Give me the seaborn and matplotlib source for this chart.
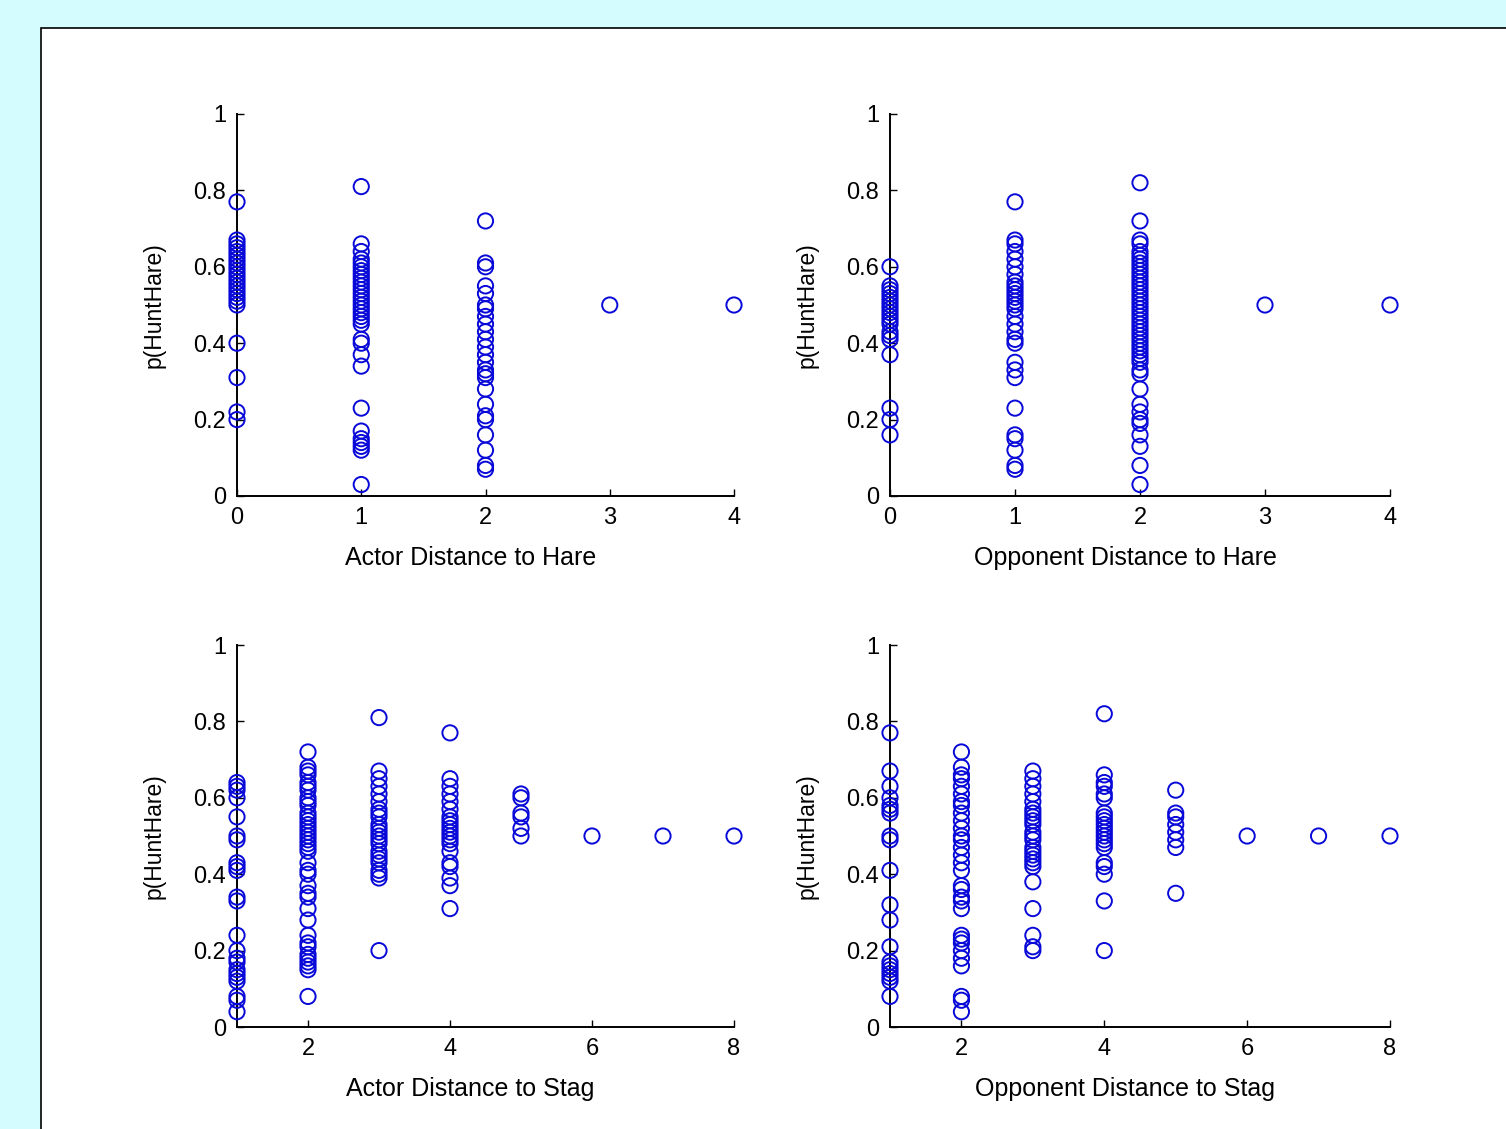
import matplotlib
matplotlib.use("Agg")
import matplotlib.pyplot as plt
from matplotlib.patches import Rectangle
import seaborn as sns
import pandas as pd

# ---------------- data (p(HuntHare) values per distance) ----------------
# Actor Distance to Hare
ah_d0 = [0.77, 0.67, 0.66, 0.65, 0.64, 0.63, 0.62, 0.61, 0.60, 0.59, 0.58, 0.57,
         0.56, 0.55, 0.54, 0.53, 0.52, 0.51, 0.50, 0.40, 0.31, 0.22, 0.20]
ah_d1 = [0.81, 0.66, 0.64, 0.62, 0.61, 0.60, 0.59, 0.58, 0.57, 0.56, 0.55, 0.54,
         0.53, 0.52, 0.51, 0.50, 0.49, 0.48, 0.47, 0.46, 0.45, 0.41, 0.40, 0.37,
         0.34, 0.23, 0.17, 0.15, 0.14, 0.13, 0.12, 0.03]
ah_d2 = [0.72, 0.61, 0.60, 0.55, 0.53, 0.50, 0.49, 0.47, 0.45, 0.43, 0.41, 0.39,
         0.37, 0.35, 0.33, 0.32, 0.31, 0.28, 0.24, 0.21, 0.20, 0.16, 0.12, 0.08, 0.07]
ah_d3 = [0.50]
ah_d4 = [0.50]

# Opponent Distance to Hare
oh_d0 = [0.60, 0.55, 0.54, 0.53, 0.52, 0.51, 0.50, 0.49, 0.48, 0.47, 0.46, 0.45,
         0.43, 0.42, 0.41, 0.37, 0.23, 0.20, 0.16]
oh_d1 = [0.77, 0.67, 0.66, 0.64, 0.62, 0.60, 0.58, 0.56, 0.55, 0.54, 0.53, 0.52,
         0.51, 0.50, 0.49, 0.47, 0.45, 0.43, 0.41, 0.40, 0.35, 0.33, 0.31, 0.23,
         0.16, 0.15, 0.12, 0.08, 0.07]
oh_d2 = [0.82, 0.72, 0.67, 0.66, 0.64, 0.63, 0.62, 0.61, 0.60, 0.59, 0.58, 0.57,
         0.56, 0.55, 0.54, 0.53, 0.52, 0.51, 0.50, 0.49, 0.48, 0.47, 0.46, 0.45,
         0.44, 0.43, 0.42, 0.41, 0.40, 0.39, 0.38, 0.37, 0.36, 0.35, 0.33, 0.32,
         0.28, 0.24, 0.22, 0.20, 0.19, 0.16, 0.13, 0.08, 0.03]
oh_d3 = [0.50]
oh_d4 = [0.50]

# Actor Distance to Stag
as_d1 = [0.64, 0.63, 0.62, 0.60, 0.55, 0.50, 0.49, 0.43, 0.42, 0.41, 0.34, 0.33,
         0.24, 0.20, 0.18, 0.17, 0.15, 0.14, 0.13, 0.12, 0.08, 0.07, 0.04]
as_d2 = [0.72, 0.68, 0.67, 0.66, 0.64, 0.63, 0.62, 0.60, 0.59, 0.58, 0.56, 0.55,
         0.54, 0.53, 0.52, 0.51, 0.50, 0.49, 0.48, 0.47, 0.46, 0.43, 0.41, 0.40,
         0.37, 0.35, 0.34, 0.31, 0.28, 0.24, 0.22, 0.21, 0.19, 0.18, 0.17, 0.16,
         0.15, 0.08]
as_d3 = [0.81, 0.67, 0.65, 0.63, 0.61, 0.59, 0.57, 0.56, 0.55, 0.53, 0.52, 0.51,
         0.50, 0.49, 0.48, 0.46, 0.45, 0.44, 0.43, 0.41, 0.40, 0.39, 0.20]
as_d4 = [0.77, 0.65, 0.63, 0.61, 0.59, 0.57, 0.55, 0.54, 0.53, 0.52, 0.51, 0.50,
         0.49, 0.48, 0.46, 0.43, 0.42, 0.39, 0.37, 0.31]
as_d5 = [0.61, 0.60, 0.56, 0.55, 0.52, 0.50]
as_d6 = [0.50]
as_d7 = [0.50]
as_d8 = [0.50]

# Opponent Distance to Stag
os_d1 = [0.77, 0.67, 0.63, 0.60, 0.58, 0.57, 0.56, 0.50, 0.49, 0.41, 0.32, 0.28,
         0.21, 0.17, 0.16, 0.15, 0.14, 0.13, 0.12, 0.08]
os_d2 = [0.72, 0.68, 0.66, 0.65, 0.63, 0.61, 0.59, 0.58, 0.56, 0.54, 0.52, 0.50,
         0.49, 0.47, 0.45, 0.43, 0.41, 0.37, 0.36, 0.34, 0.33, 0.31, 0.24, 0.23,
         0.22, 0.20, 0.18, 0.16, 0.08, 0.07, 0.04]
os_d3 = [0.67, 0.65, 0.63, 0.61, 0.59, 0.57, 0.56, 0.55, 0.54, 0.53, 0.51, 0.50,
         0.49, 0.47, 0.46, 0.45, 0.44, 0.43, 0.42, 0.38, 0.31, 0.24, 0.21, 0.20]
os_d4 = [0.82, 0.66, 0.64, 0.63, 0.61, 0.60, 0.56, 0.55, 0.54, 0.53, 0.52, 0.51,
         0.50, 0.49, 0.48, 0.47, 0.43, 0.42, 0.40, 0.33, 0.20]
os_d5 = [0.62, 0.56, 0.55, 0.53, 0.51, 0.49, 0.47, 0.35]
os_d6 = [0.50]
os_d7 = [0.50]
os_d8 = [0.50]

hare_ticks = [0, 1, 2, 3, 4]
stag_ticks = [2, 4, 6, 8]
y_ticks = [0, 0.2, 0.4, 0.6, 0.8, 1]
y_ticklabels = ["0", "0.2", "0.4", "0.6", "0.8", "1"]
ylabel = "p(HuntHare)"


def frame(columns):
    rows = []
    for d, vals in columns.items():
        for v in vals:
            rows.append((d, v))
    return pd.DataFrame(rows, columns=["dist", "p"])


panels = [
    dict(df=frame({0: ah_d0, 1: ah_d1, 2: ah_d2, 3: ah_d3, 4: ah_d4}),
         xlabel="Actor Distance to Hare", xlim=(0, 4), xticks=hare_ticks),
    dict(df=frame({0: oh_d0, 1: oh_d1, 2: oh_d2, 3: oh_d3, 4: oh_d4}),
         xlabel="Opponent Distance to Hare", xlim=(0, 4), xticks=hare_ticks),
    dict(df=frame({1: as_d1, 2: as_d2, 3: as_d3, 4: as_d4, 5: as_d5,
                   6: as_d6, 7: as_d7, 8: as_d8}),
         xlabel="Actor Distance to Stag", xlim=(1, 8), xticks=stag_ticks),
    dict(df=frame({1: os_d1, 2: os_d2, 3: os_d3, 4: os_d4, 5: os_d5,
                   6: os_d6, 7: os_d7, 8: os_d8}),
         xlabel="Opponent Distance to Stag", xlim=(1, 8), xticks=stag_ticks),
]

# ---------------- styling ----------------
sns.set_style("ticks")
plt.rcParams["font.family"] = ["Liberation Sans", "DejaVu Sans"]
plt.rcParams["text.color"] = "black"
plt.rcParams["axes.labelcolor"] = "black"

W, H = 1506, 1129
fig = plt.figure(figsize=(W / 100, H / 100), dpi=100)
fig.patch.set_facecolor("#d4fcff")

# white slide panel with black left/top border
fig.patches.append(Rectangle((41 / W, -0.01), 1.0, 1 - 28 / H + 0.01,
                             transform=fig.transFigure, facecolor="white",
                             edgecolor="black", linewidth=1.2, zorder=-10))

# axes rectangles (pixels): left x, right x
cols = [(237, 734), (890, 1390)]
rows = [(114, 496), (645, 1027)]
BLUE = "#0808d8"

for i, pnl in enumerate(panels):
    (x0, x1) = cols[i % 2]
    (y0, y1) = rows[i // 2]
    ax = fig.add_axes([x0 / W, 1 - y1 / H, (x1 - x0) / W, (y1 - y0) / H])
    ax.set_zorder(5)
    ax.set_facecolor("none")
    sns.scatterplot(data=pnl["df"], x="dist", y="p", ax=ax, marker="o", s=120,
                    color=BLUE, facecolors="none", edgecolor=BLUE,
                    linewidth=1.4, clip_on=False, legend=False, zorder=3)
    ax.set_xlim(*pnl["xlim"])
    ax.set_ylim(0, 1)
    ax.set_xticks(pnl["xticks"])
    ax.set_xticklabels([str(t) for t in pnl["xticks"]])
    ax.set_yticks(y_ticks)
    ax.set_yticklabels(y_ticklabels)
    for side in ["top", "right"]:
        ax.spines[side].set_visible(False)
    for side in ["left", "bottom"]:
        ax.spines[side].set_linewidth(1.4)
        ax.spines[side].set_color("black")
    ax.tick_params(direction="in", length=5, width=1.0, labelsize=17,
                   colors="black", pad=8)
    ax.set_xlabel(pnl["xlabel"], fontsize=18, labelpad=12)
    ax.xaxis.label.set_x(0.47)
    ax.set_ylabel(ylabel, fontsize=16.5, labelpad=20)

fig.savefig("out.png", dpi=100, facecolor=fig.get_facecolor())
